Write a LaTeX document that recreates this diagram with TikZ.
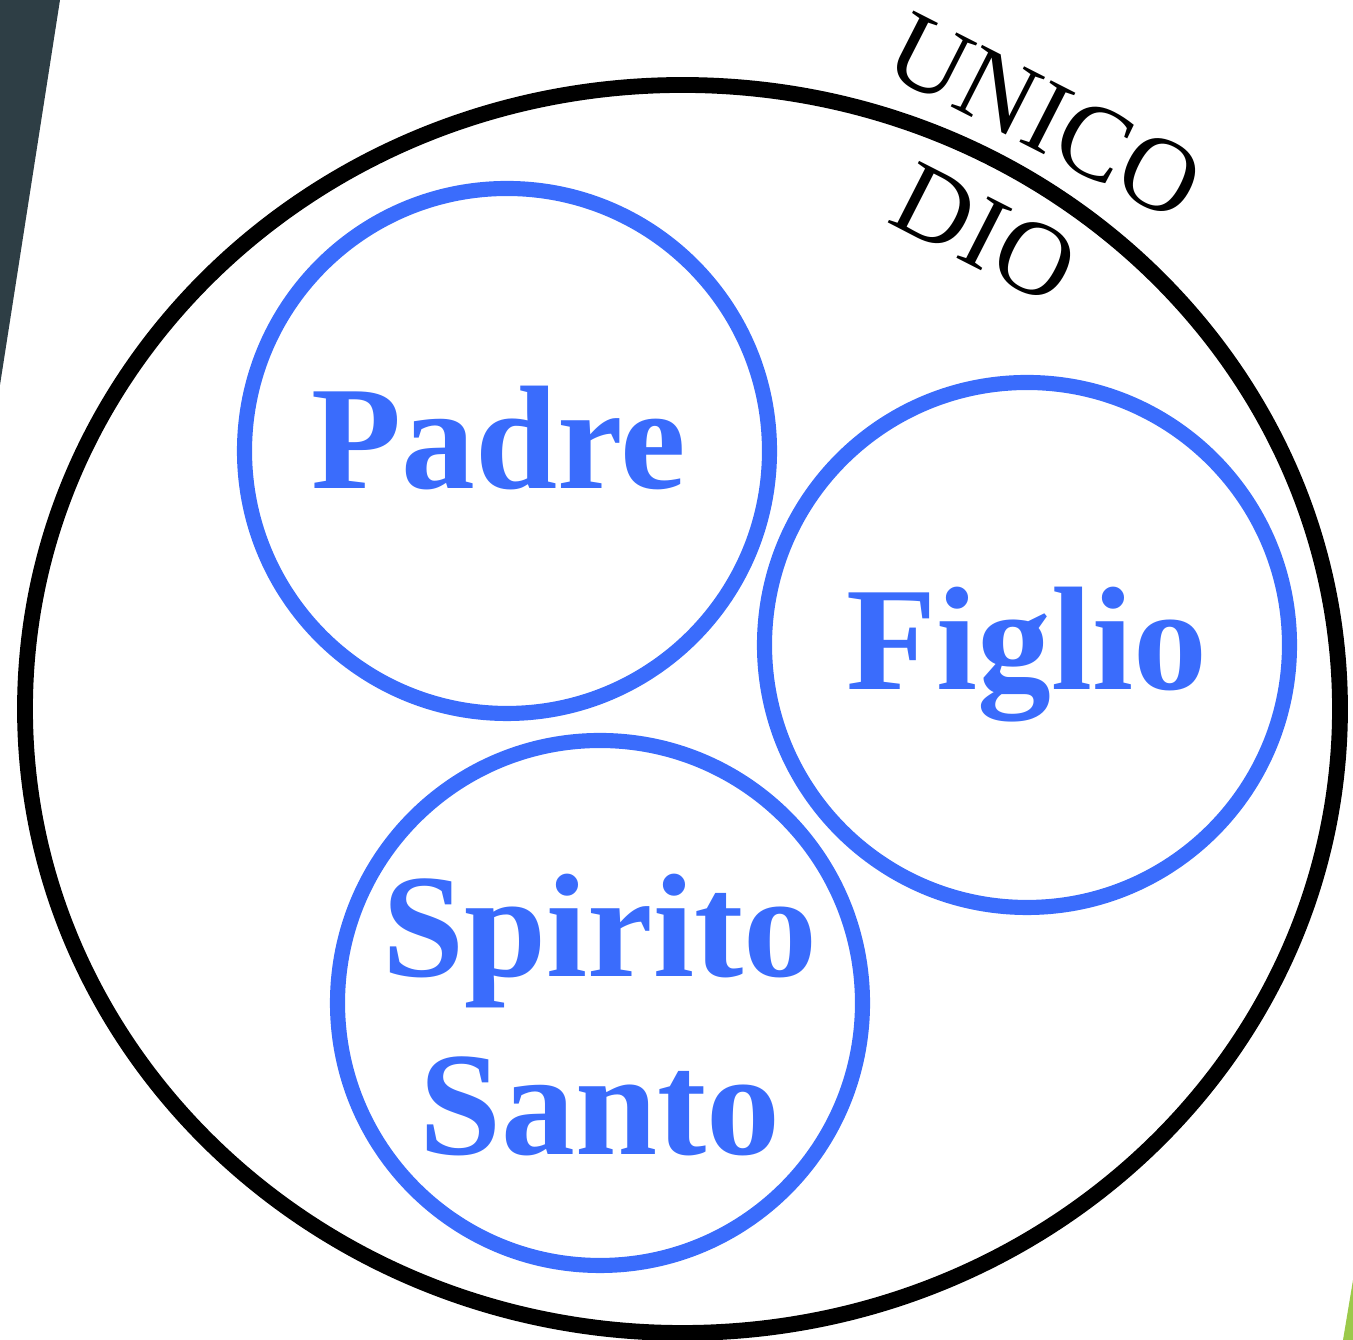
\documentclass[tikz,border=0pt]{standalone}
\usepackage{fontspec}
\setmainfont{Liberation Serif}
\usetikzlibrary{shapes.geometric}
\definecolor{trinity}{RGB}{58,108,252}
\definecolor{slide}{RGB}{46,62,69}
\definecolor{leaf}{RGB}{155,201,74}
\tikzstyle{god}=[ellipse,draw=black,line width=4.5pt,minimum width=13.15cm,minimum height=12.48cm,inner sep=0pt]
\tikzstyle{person}=[circle,draw=trinity,line width=4.3pt,minimum size=5.25cm,inner sep=0pt]
\tikzstyle{personname}=[text=trinity,align=center,inner sep=0pt,font=\fontsize{42}{50.6}\selectfont\bfseries]
\tikzstyle{title}=[font=\fontsize{30}{37.5}\selectfont,align=center,rotate=-27]

\begin{document}
\begin{tikzpicture}
\useasboundingbox (0,0) rectangle (13.53,13.40);
% corners of the slide
\fill[slide] (0,13.40) -- (0.60,13.40) -- (0,9.55) -- cycle;
\fill[leaf] (13.53,0.60) -- (13.53,0) -- (13.43,0) -- cycle;

% the one God
\node[god] (dio) at (6.825,6.31) {};
\node[title] (unico) at (10.15,11.65) {UNICO\\DIO};

% the three persons, each with its name
\foreach \pos/\who/\word/\dx/\dy in {{(5.07,8.89)/padre/Padre/-0.08/0.13}, {(10.27,6.95)/figlio/Figlio/0/-0.10}, {(6.00,3.37)/spirito/{Spirito\\Santo}/0/-0.12}}
{
	\node[person] (\who) at \pos {};
	\node[personname] (\who-name) at ([xshift=\dx cm,yshift=\dy cm]\who.center) {\word};
}
\end{tikzpicture}
\end{document}
